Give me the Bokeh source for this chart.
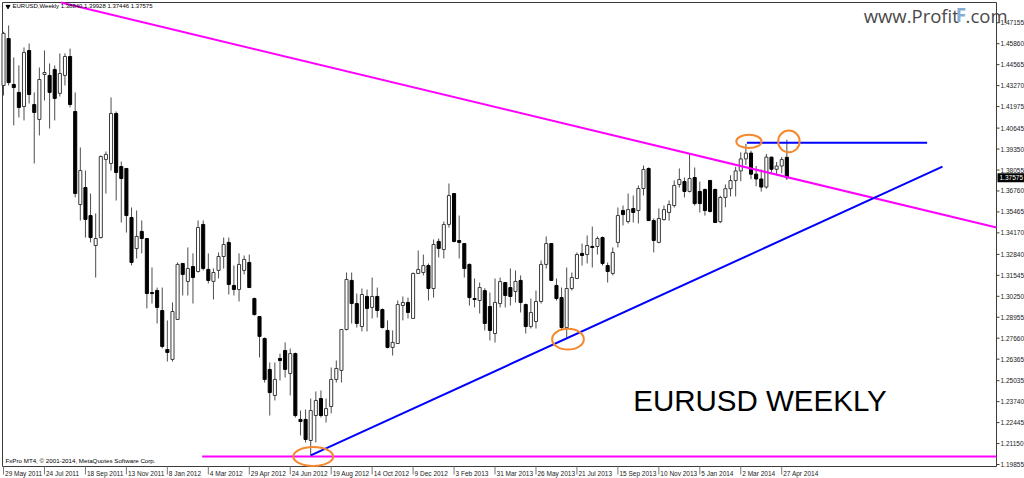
from bokeh.plotting import figure
from bokeh.models import Range1d, Label, ColumnDataSource
from bokeh.embed import file_html
from bokeh.resources import INLINE

# ---------------- data (EURUSD weekly, 29 May 2011 .. 4 May 2014) ----------------
opens = [1.4328, 1.4618, 1.4334, 1.4285, 1.4198, 1.4544, 1.4210, 1.4118, 1.4396, 1.4390,
         1.4427, 1.4279, 1.4390, 1.4507, 1.4167, 1.3592, 1.3697, 1.3524, 1.3339, 1.3388,
         1.3871, 1.3846, 1.4155, 1.3827, 1.3815, 1.3512, 1.3320, 1.3426, 1.3382, 1.3048,
         1.3061, 1.2937, 1.2696, 1.2635, 1.2882, 1.3228, 1.3117, 1.3209, 1.3178, 1.3469,
         1.3191, 1.3117, 1.3185, 1.3271, 1.3358, 1.3092, 1.3067, 1.3185, 1.3234, 1.3011,
         1.2900, 1.2764, 1.2573, 1.2412, 1.2641, 1.2690, 1.2548, 1.2671, 1.2264, 1.2264,
         1.2134, 1.2288, 1.2393, 1.2288, 1.2344, 1.2511, 1.2567, 1.2820, 1.3123, 1.2980,
         1.2838, 1.3024, 1.2956, 1.3024, 1.2943, 1.2814, 1.2709, 1.2733, 1.2968, 1.2987,
         1.2888, 1.3166, 1.3172, 1.3215, 1.3073, 1.3364, 1.3314, 1.3469, 1.3660, 1.3370,
         1.3351, 1.3222, 1.3011, 1.2999, 1.3060, 1.2962, 1.2795, 1.2980, 1.3110, 1.3079,
         1.3055, 1.3123, 1.2974, 1.2838, 1.2869, 1.2993, 1.3222, 1.3351, 1.3092, 1.3017,
         1.2832, 1.3073, 1.3135, 1.3290, 1.3283, 1.3333, 1.3333, 1.3388, 1.3215, 1.3166,
         1.3358, 1.3555, 1.3487, 1.3567, 1.3555, 1.3691, 1.3815, 1.3493, 1.3358, 1.3499,
         1.3543, 1.3586, 1.3716, 1.3734, 1.3673, 1.3759, 1.3673, 1.3685, 1.3741, 1.3685,
         1.3486, 1.3636, 1.3690, 1.3740, 1.3800, 1.3874, 1.3910, 1.3780, 1.3750, 1.3700,
         1.3885, 1.3810, 1.3830, 1.38840]
highs = [1.4660, 1.4699, 1.4501, 1.4452, 1.4563, 1.4587, 1.4285, 1.4439, 1.4544, 1.4464,
         1.4452, 1.4526, 1.4526, 1.4556, 1.4285, 1.3945, 1.3802, 1.3660, 1.3537, 1.3895,
         1.3920, 1.4254, 1.4167, 1.3858, 1.3815, 1.3574, 1.3555, 1.3494, 1.3382, 1.3203,
         1.3079, 1.3079, 1.2876, 1.2987, 1.3234, 1.3228, 1.3327, 1.3290, 1.3494, 1.3494,
         1.3290, 1.3197, 1.3296, 1.3388, 1.3388, 1.3215, 1.3290, 1.3277, 1.3283, 1.3017,
         1.2900, 1.2771, 1.2616, 1.2616, 1.2671, 1.2740, 1.2702, 1.2677, 1.2319, 1.2325,
         1.2393, 1.2437, 1.2443, 1.2393, 1.2585, 1.2628, 1.2820, 1.3172, 1.3172, 1.3042,
         1.3073, 1.3067, 1.3141, 1.3079, 1.2950, 1.2876, 1.2814, 1.2999, 1.3024, 1.3017,
         1.3172, 1.3308, 1.3283, 1.3228, 1.3376, 1.3382, 1.3487, 1.3722, 1.3660, 1.3524,
         1.3351, 1.3228, 1.3135, 1.3110, 1.3075, 1.3048, 1.3135, 1.3141, 1.3110, 1.3197,
         1.3184, 1.3154, 1.2980, 1.3011, 1.3061, 1.3246, 1.3395, 1.3351, 1.3135, 1.3079,
         1.3203, 1.3172, 1.3296, 1.3351, 1.3401, 1.3456, 1.3395, 1.3395, 1.3234, 1.3327,
         1.3574, 1.3586, 1.3660, 1.3648, 1.3710, 1.3833, 1.3821, 1.3506, 1.3568, 1.3586,
         1.3617, 1.3741, 1.3815, 1.3759, 1.3907, 1.3821, 1.3734, 1.3691, 1.3741, 1.3691,
         1.3646, 1.3716, 1.3773, 1.3825, 1.3915, 1.3967, 1.3925, 1.3830, 1.3808, 1.3905,
         1.3887, 1.3855, 1.3886, 1.39928]
lows = [1.4266, 1.4328, 1.4081, 1.4130, 1.4112, 1.4217, 1.3846, 1.4019, 1.4235, 1.4062,
        1.4112, 1.4260, 1.4328, 1.4192, 1.3636, 1.3493, 1.3388, 1.3358, 1.3141, 1.3382,
        1.3660, 1.3802, 1.3617, 1.3481, 1.3419, 1.3216, 1.3259, 1.3290, 1.2950, 1.2980,
        1.2857, 1.2703, 1.2622, 1.2622, 1.2882, 1.3030, 1.3030, 1.2980, 1.3172, 1.3185,
        1.3104, 1.3005, 1.3135, 1.3197, 1.3036, 1.3030, 1.2993, 1.3160, 1.3079, 1.2906,
        1.2647, 1.2492, 1.2288, 1.2381, 1.2505, 1.2523, 1.2412, 1.2276, 1.2165, 1.2122,
        1.2042, 1.2122, 1.2276, 1.2245, 1.2301, 1.2492, 1.2492, 1.2814, 1.2857, 1.2832,
        1.2808, 1.2808, 1.2888, 1.2894, 1.2826, 1.2703, 1.2659, 1.2733, 1.2876, 1.2888,
        1.2888, 1.3166, 1.3154, 1.2999, 1.3017, 1.3265, 1.3259, 1.3450, 1.3358, 1.3259,
        1.3141, 1.2968, 1.2956, 1.2919, 1.2814, 1.2752, 1.2739, 1.2956, 1.2956, 1.2968,
        1.2987, 1.2925, 1.2795, 1.2826, 1.2826, 1.2980, 1.3197, 1.3123, 1.2999, 1.2814,
        1.2770, 1.3061, 1.3135, 1.3215, 1.3228, 1.3203, 1.3283, 1.3215, 1.3110, 1.3154,
        1.3327, 1.3463, 1.3475, 1.3481, 1.3475, 1.3648, 1.3493, 1.3296, 1.3352, 1.3493,
        1.3493, 1.3574, 1.3697, 1.3636, 1.3667, 1.3586, 1.3543, 1.3524, 1.3543, 1.3481,
        1.3477, 1.3575, 1.3642, 1.3642, 1.3736, 1.3836, 1.3749, 1.3705, 1.3672, 1.3690,
        1.3791, 1.3772, 1.3785, 1.37446]
closes = [1.4650, 1.4346, 1.4315, 1.4192, 1.4532, 1.4272, 1.4161, 1.4365, 1.4408, 1.4285,
          1.4248, 1.4402, 1.4507, 1.4210, 1.3660, 1.3802, 1.3500, 1.3388, 1.3382, 1.3889,
          1.3902, 1.4155, 1.3790, 1.3753, 1.3524, 1.3234, 1.3395, 1.3382, 1.3042, 1.3042,
          1.2956, 1.2715, 1.2678, 1.2931, 1.3222, 1.3160, 1.3197, 1.3141, 1.3450, 1.3197,
          1.3123, 1.3172, 1.3271, 1.3345, 1.3098, 1.3067, 1.3222, 1.3253, 1.3079, 1.2912,
          1.2777, 1.2511, 1.2430, 1.2511, 1.2628, 1.2573, 1.2671, 1.2288, 1.2251, 1.2140,
          1.2319, 1.2381, 1.2288, 1.2331, 1.2511, 1.2579, 1.2820, 1.3129, 1.2980, 1.2857,
          1.3036, 1.2950, 1.3024, 1.2937, 1.2832, 1.2709, 1.2740, 1.2974, 1.2987, 1.2925,
          1.3166, 1.3191, 1.3215, 1.3073, 1.3345, 1.3321, 1.3469, 1.3648, 1.3364, 1.3358,
          1.3197, 1.3017, 1.3005, 1.3079, 1.2857, 1.2814, 1.2987, 1.3116, 1.3030, 1.3024,
          1.3117, 1.2987, 1.2838, 1.2925, 1.2993, 1.3222, 1.3351, 1.3123, 1.3011, 1.2832,
          1.3073, 1.3141, 1.3283, 1.3277, 1.3339, 1.3327, 1.3382, 1.3228, 1.3178, 1.3296,
          1.3524, 1.3530, 1.3561, 1.3543, 1.3691, 1.3809, 1.3493, 1.3370, 1.3506, 1.3561,
          1.3592, 1.3710, 1.3747, 1.3673, 1.3753, 1.3598, 1.3598, 1.3555, 1.3549, 1.3481,
          1.3636, 1.3690, 1.3740, 1.3800, 1.3874, 1.3910, 1.3780, 1.3750, 1.3700, 1.3885,
          1.3810, 1.3830, 1.3870, 1.37575]
weeks = list(range(len(opens)))

date_labels = ["29 May 2011", "24 Jul 2011", "18 Sep 2011", "13 Nov 2011", "8 Jan 2012",
               "4 Mar 2012", "29 Apr 2012", "24 Jun 2012", "19 Aug 2012", "14 Oct 2012",
               "9 Dec 2012", "3 Feb 2013", "31 Mar 2013", "26 May 2013", "21 Jul 2013",
               "15 Sep 2013", "10 Nov 2013", "5 Jan 2014", "2 Mar 2014", "27 Apr 2014"]
date_label_weeks = [0, 8, 16, 24, 32, 40, 48, 56, 64, 72, 80, 88, 96, 104, 112, 120, 128, 136, 144, 152]

price_ticks = [1.19855, 1.21150, 1.22445, 1.23740, 1.25035, 1.26365, 1.27660, 1.28955,
               1.30250, 1.31545, 1.32840, 1.34170, 1.35465, 1.36760, 1.38055, 1.39350,
               1.40645, 1.41975, 1.43270, 1.44565, 1.45860, 1.47155]

# trend lines (week index, price)
resistance_weeks = [10.5, 195.0]
resistance_prices = [1.4846, 1.3442]
support_weeks = [60.0, 183.4]
support_prices = [1.2042, 1.3826]
top_level_weeks = [145.2, 180.4]
top_level_price = 1.3974
bottom_level_weeks = [38.8, 195.0]
bottom_level_price = 1.2035

# highlighted touch points
mark_weeks = [60.5, 110.25, 145.6, 153.4]
mark_prices = [1.2035, 1.2760, 1.3982, 1.3982]
mark_w = [7.8, 6.2, 4.95, 4.2]
mark_h = [0.0117, 0.0128, 0.0082, 0.0134]

symbol = "EURUSD,Weekly"
last_ohlc = ["1.38840", "1.39928", "1.37446", "1.37575"]
last_price = 1.37575

# ---------------- geometry ----------------
FONT = "Liberation Sans"
FRAME = "#3c3c3c"
CW, CH = 1024, 478                       # canvas
IL, IR, IT, IB = 2.0, 996.0, 2.0, 466.0  # chart window inside the canvas (px)
XI0, XI1 = -0.2, 193.95                  # visible weeks
YI0, YI1 = 1.19731, 1.48407              # visible prices
sx = (IR - IL) / (XI1 - XI0)             # px per week
sy = (IB - IT) / (YI1 - YI0)             # px per price unit
X0, X1 = XI0 - IL / sx, XI1 + (CW - IR) / sx
Y0, Y1 = YI0 - (CH - IB) / sy, YI1 + IT / sy


def clip(xs, ys):
    (xa, xb), (ya, yb) = xs, ys
    t0, t1 = 0.0, 1.0
    dx, dy = xb - xa, yb - ya
    for pp, qq in ((-dx, xa - XI0), (dx, XI1 - xa), (-dy, ya - YI0), (dy, YI1 - ya)):
        if pp == 0:
            continue
        r = qq / pp
        if pp < 0:
            t0 = max(t0, r)
        else:
            t1 = min(t1, r)
    return [xa + t0 * dx, xa + t1 * dx], [ya + t0 * dy, ya + t1 * dy]


p = figure(width=CW, height=CH, x_range=Range1d(X0, X1), y_range=Range1d(Y0, Y1),
           x_axis_location=None, y_axis_location=None,
           output_backend="svg", toolbar_location=None,
           min_border_left=0, min_border_top=0, min_border_right=0, min_border_bottom=0)
p.xgrid.visible = False
p.ygrid.visible = False
p.outline_line_color = None
p.background_fill_color = "white"
p.border_fill_color = "white"

# chart window frame
p.quad(left=[XI0], right=[XI1], bottom=[YI0], top=[YI1], fill_color=None,
       line_color=FRAME, line_width=1)

# price scale: ticks + labels
p.segment(x0=[XI1] * len(price_ticks), x1=[XI1 + 3 / sx] * len(price_ticks),
          y0=price_ticks, y1=price_ticks, line_color=FRAME, line_width=1)
for t in price_ticks:
    p.add_layout(Label(x=XI1 + 4 / sx, y=t, text=f"{t:.5f}", text_baseline="middle",
                       text_align="left", text_font=FONT, text_font_size="6.5px",
                       text_color="#1a1a1a"))

# time scale: ticks + labels
p.segment(x0=date_label_weeks, x1=date_label_weeks, y0=[YI0] * len(date_label_weeks),
          y1=[YI0 - 8 / sy] * len(date_label_weeks), line_color="#7a7a7a", line_width=1)
for w, lab in zip(date_label_weeks, date_labels):
    p.add_layout(Label(x=w + 1.5 / sx, y=YI0 - 3.5 / sy, text=lab, text_baseline="top",
                       text_align="left", text_font=FONT, text_font_size="6.5px",
                       text_color="#1a1a1a"))

# ---------------- candles ----------------
up = [c >= o for o, c in zip(opens, closes)]
src = ColumnDataSource(dict(
    x=weeks,
    low=lows, high=highs,
    top=[max(o, c) for o, c in zip(opens, closes)],
    bottom=[min(o, c) for o, c in zip(opens, closes)],
    fill=["white" if u else "black" for u in up],
    line=["#3a3a3a" if u else "black" for u in up],
))
p.segment(x0="x", y0="low", x1="x", y1="high", source=src, line_color="#4d4d4d", line_width=1)
p.vbar(x="x", width=0.6, top="top", bottom="bottom", source=src,
       fill_color="fill", line_color="line", line_width=1)

# ---------------- drawings ----------------
rx, ry = clip(resistance_weeks, resistance_prices)
p.line(rx, ry, line_color="#FF00FF", line_width=2)
bx, by = clip(bottom_level_weeks, [bottom_level_price] * 2)
p.line(bx, by, line_color="#FF00FF", line_width=2)
sx_, sy_ = clip(support_weeks, support_prices)
p.line(sx_, sy_, line_color="#0000FF", line_width=2)
tx, ty = clip(top_level_weeks, [top_level_price] * 2)
p.line(tx, ty, line_color="#0000FF", line_width=2)
p.ellipse(x=mark_weeks, y=mark_prices, width=mark_w, height=mark_h,
          fill_color=None, line_color="#F5892F", line_width=2)

# ---------------- texts ----------------
p.scatter([XI0 + 5.5 / sx], [YI1 - 4 / sy], marker="inverted_triangle", size=4,
          fill_color="black", line_color="black")
p.add_layout(Label(x=XI0 + 10 / sx, y=YI1 - 6.8 / sy, text=symbol + "  " + " ".join(last_ohlc),
                   text_font=FONT, text_font_size="6px", text_color="black"))
p.add_layout(Label(x=XI0 + 3 / sx, y=YI0 + 3 / sy,
                   text="FxPro MT4, \u00a9 2001-2014, MetaQuotes Software Corp.",
                   text_font=FONT, text_font_size="6.2px", text_color="black"))
p.add_layout(Label(x=123.0, y=1.2282, text="EURUSD  WEEKLY",
                   text_font=FONT, text_font_size="29.5px", text_color="black"))

# watermark
p.add_layout(Label(x=168.0, y=1.4686, text="www.Profit", text_font="Open Sans",
                   text_font_size="18.5px", text_color="#4a4a4a"))
p.add_layout(Label(x=186.0, y=1.4686, text="F", text_font="Open Sans", text_font_style="bold",
                   text_font_size="19px", text_color="#86aed4"))
p.add_layout(Label(x=187.9, y=1.4686, text=".com", text_font="Open Sans",
                   text_font_size="18.5px", text_color="#4a4a4a"))

# current price box
p.add_layout(Label(x=XI1 + 1 / sx, y=last_price, text=last_ohlc[3], text_baseline="middle",
                   text_font=FONT, text_font_size="6.5px", text_color="white",
                   background_fill_color="black", padding=2))

open("out.html", "w").write(file_html(p, INLINE))
